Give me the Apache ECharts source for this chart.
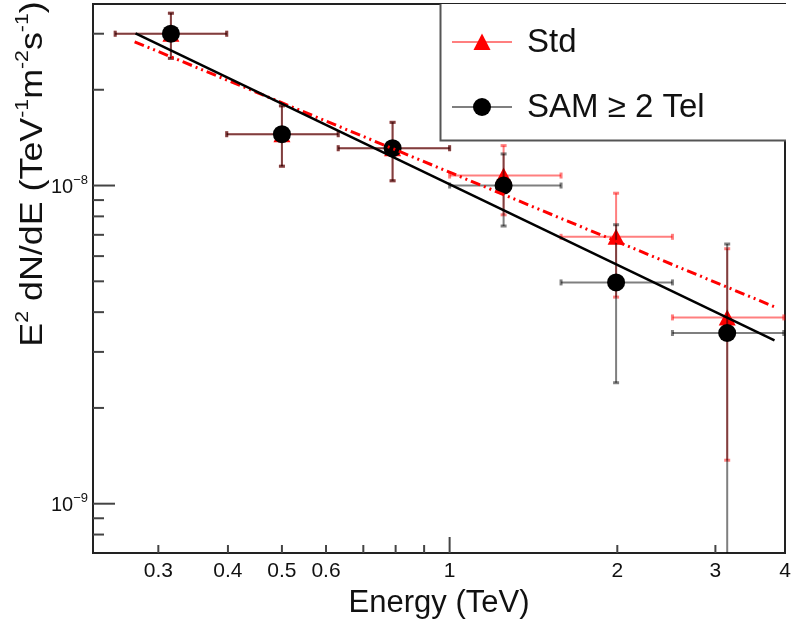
<!DOCTYPE html>
<html>
<head>
<meta charset="utf-8">
<script src="https://cdn.jsdelivr.net/npm/echarts@6/dist/echarts.min.js"></script>
<style>
  html, body { margin: 0; padding: 0; background: #fff; }
  #chart { width: 792px; height: 628px; }
</style>
</head>
<body>
<div id="chart"></div>
<script>
// Energy bins (TeV): bin centres and bin edges
const energy   = [0.316, 0.50, 0.79, 1.25, 1.99, 3.15];
const energyLo = [0.251, 0.398, 0.631, 1.0, 1.585, 2.512];
const energyHi = [0.398, 0.631, 1.0, 1.585, 2.512, 3.98];

// Standard analysis: E^2 dN/dE (TeV^-1 m^-2 s^-1) with lower / upper error
const stdFlux   = [3.0e-8, 1.45e-8, 1.31e-8, 1.075e-8, 6.9e-9, 3.85e-9];
const stdFluxLo = [2.51e-8, 1.15e-8, 1.035e-8, 8.09e-9, 4.46e-9, 1.37e-9];
const stdFluxHi = [3.48e-8, 1.78e-8, 1.58e-8, 1.335e-8, 9.46e-9, 6.33e-9];

// SAM analysis, at least 2 telescopes
const samFlux   = [3.0e-8, 1.45e-8, 1.31e-8, 1.0e-8, 4.96e-9, 3.44e-9];
const samFluxLo = [2.51e-8, 1.15e-8, 1.035e-8, 7.46e-9, 2.40e-9, 1.0e-10];
const samFluxHi = [3.48e-8, 1.78e-8, 1.58e-8, 1.257e-8, 7.53e-9, 6.55e-9];

// Power-law fits (straight lines in log-log), ends of the fitted range
const stdFitE = [0.272, 3.84];
const stdFitF = [2.83e-8, 4.15e-9];
const samFitE = [0.273, 3.83];
const samFitF = [3.01e-8, 3.26e-9];

// Axis ticks and labels
const xMajorTicks = [1];
const xMinorTicks = [0.3, 0.4, 0.5, 0.6, 0.7, 0.8, 0.9, 2, 3];
const xTickLabels = [0.3, 0.4, 0.5, 0.6, 1, 2, 3, 4];
const yMajorTicks = [1e-9, 1e-8];
const yMinorTicks = [8e-10, 9e-10, 2e-9, 3e-9, 4e-9, 5e-9, 6e-9, 7e-9, 8e-9, 9e-9, 2e-8, 3e-8];

const X_MIN = 0.229, X_MAX = 4;
const Y_MIN = 7.0e-10, Y_MAX = 3.72e-8;

const FONT = '"Liberation Sans", Arial, Helvetica, sans-serif';
const RED = '#ff0000';
const RED_BAR = 'rgba(255,0,0,0.5)';
const GREY_BAR = 'rgba(0,0,0,0.5)';
const AXIS = '#222';
const TICK = '#444';

function zip(...cols) {
  return cols[0].map((_, i) => cols.map(c => c[i]));
}

// Cross-shaped error bars with small end caps, clipped at the frame bottom
function errorBars(color) {
  return function (params, api) {
    const cs = params.coordSys;
    const bottom = cs.y + cs.height;
    const x = api.value(0), y = api.value(1);
    const c = api.coord([x, y]);
    const xl = api.coord([api.value(2), y])[0];
    const xr = api.coord([api.value(3), y])[0];
    let yl = api.coord([x, api.value(4)])[1];
    const yh = api.coord([x, api.value(5)])[1];
    const lowClipped = yl > bottom;
    yl = Math.min(yl, bottom);
    const st = { stroke: color, lineWidth: 2 };
    const cap = { stroke: color, lineWidth: 3 };
    const children = [
      { type: 'line', shape: { x1: xl, y1: c[1], x2: xr, y2: c[1] }, style: st },
      { type: 'line', shape: { x1: c[0], y1: yh, x2: c[0], y2: yl }, style: st },
      { type: 'line', shape: { x1: xl, y1: c[1] - 3, x2: xl, y2: c[1] + 3 }, style: cap },
      { type: 'line', shape: { x1: xr, y1: c[1] - 3, x2: xr, y2: c[1] + 3 }, style: cap },
      { type: 'line', shape: { x1: c[0] - 3, y1: yh, x2: c[0] + 3, y2: yh }, style: cap }
    ];
    if (!lowClipped) {
      children.push({ type: 'line', shape: { x1: c[0] - 3, y1: yl, x2: c[0] + 3, y2: yl }, style: cap });
    }
    return { type: 'group', children };
  };
}

function xTicks(len) {
  return function (params, api) {
    const p = api.coord([api.value(0), Y_MIN]);
    return { type: 'line', shape: { x1: p[0], y1: p[1], x2: p[0], y2: p[1] - len },
             style: { stroke: TICK, lineWidth: 2 } };
  };
}
function yTicks(len) {
  return function (params, api) {
    const p = api.coord([X_MIN, api.value(1)]);
    return { type: 'line', shape: { x1: p[0], y1: p[1], x2: p[0] + len, y2: p[1] },
             style: { stroke: TICK, lineWidth: 2 } };
  };
}

const chart = echarts.init(document.getElementById('chart'), null, { renderer: 'canvas' });

chart.setOption({
  animation: false,
  backgroundColor: '#fff',
  textStyle: { fontFamily: FONT },
  grid: { left: 93, right: 7, top: 4, bottom: 75, show: true, borderColor: AXIS, borderWidth: 2,
          backgroundColor: 'transparent' },
  xAxis: {
    type: 'log', logBase: 10, min: X_MIN, max: X_MAX,
    axisLine: { show: true, lineStyle: { color: AXIS, width: 2 } },
    axisTick: { show: false }, axisLabel: { show: false }, splitLine: { show: false },
    name: 'Energy (TeV)', nameLocation: 'middle', nameGap: 35,
    nameTextStyle: { fontFamily: FONT, fontSize: 31, color: '#111' }
  },
  yAxis: {
    type: 'log', logBase: 10, min: Y_MIN, max: Y_MAX,
    axisLine: { show: true, lineStyle: { color: AXIS, width: 2 } },
    axisTick: { show: false }, splitLine: { show: false },
    axisLabel: {
      margin: 5,
      formatter: function (v) {
        const e = Math.round(Math.log10(v));
        if (Math.abs(Math.log10(v) - e) > 1e-6) return '';
        return '{b|10}{s|\u2212' + Math.abs(e) + '}';
      },
      rich: {
        b: { fontFamily: FONT, fontSize: 20, color: '#111', lineHeight: 24, verticalAlign: 'bottom' },
        s: { fontFamily: FONT, fontSize: 13, color: '#111', lineHeight: 24, verticalAlign: 'top' }
      }
    }
  },
  graphic: [
    // y-axis title, stretched along its reading direction
    {
      type: 'text', x: 31, y: 174, rotation: Math.PI / 2, scaleX: 1.12, z: 10,
      style: {
        text: '{b|E}{s|2}{b| dN/dE (TeV}{s|-1}{b|m}{s|-2}{b|s}{s|-1}{b|)}',
        align: 'center', verticalAlign: 'middle',
        rich: {
          b: { fontFamily: FONT, fontSize: 32, fill: '#111', lineHeight: 36, verticalAlign: 'bottom' },
          s: { fontFamily: FONT, fontSize: 19, fill: '#111', lineHeight: 36, verticalAlign: 'top' }
        }
      }
    },
    // legend box
    { type: 'rect', z: 20, shape: { x: 440.5, y: 4, width: 345.5, height: 136.5 }, style: { fill: '#fff' } },
    { type: 'polyline', z: 21, shape: { points: [[440.5, 4], [440.5, 140.5], [786, 140.5]] },
      style: { stroke: '#555', lineWidth: 2, fill: null } },
    { type: 'line', z: 21, shape: { x1: 452, y1: 42, x2: 512, y2: 42 }, style: { stroke: RED_BAR, lineWidth: 2 } },
    { type: 'polygon', z: 22, shape: { points: [[482, 33.5], [490.5, 50], [473.5, 50]] }, style: { fill: RED } },
    { type: 'text', z: 22, x: 527, y: 43,
      style: { text: 'Std', fontFamily: FONT, fontSize: 33, fill: '#111', verticalAlign: 'middle' } },
    { type: 'line', z: 21, shape: { x1: 452, y1: 107, x2: 512, y2: 107 }, style: { stroke: GREY_BAR, lineWidth: 2 } },
    { type: 'circle', z: 22, shape: { cx: 482, cy: 107, r: 9 }, style: { fill: '#000' } },
    { type: 'text', z: 22, x: 527, y: 108,
      style: { text: 'SAM \u2265 2 Tel', fontFamily: FONT, fontSize: 33, fill: '#111', verticalAlign: 'middle' } }
  ],
  series: [
    {
      name: 'Std errors', type: 'custom', renderItem: errorBars(RED_BAR),
      data: zip(energy, stdFlux, energyLo, energyHi, stdFluxLo, stdFluxHi),
      encode: { x: 0, y: 1 }, z: 2
    },
    {
      name: 'Std', type: 'scatter', symbol: 'triangle', symbolSize: [17, 16],
      itemStyle: { color: RED, opacity: 1 }, data: zip(energy, stdFlux), z: 3
    },
    {
      name: 'SAM errors', type: 'custom', renderItem: errorBars(GREY_BAR),
      data: zip(energy, samFlux, energyLo, energyHi, samFluxLo, samFluxHi),
      encode: { x: 0, y: 1 }, z: 4
    },
    {
      name: 'SAM \u2265 2 Tel', type: 'scatter', symbol: 'circle', symbolSize: 18,
      itemStyle: { color: '#000', opacity: 1 }, data: zip(energy, samFlux), z: 5
    },
    {
      name: 'Std fit', type: 'line', showSymbol: false, symbol: 'none', z: 6,
      lineStyle: { color: RED, width: 3, type: [10, 4, 2, 4, 2, 4] },
      data: zip(stdFitE, stdFitF)
    },
    {
      name: 'SAM fit', type: 'line', showSymbol: false, symbol: 'none', z: 6,
      lineStyle: { color: '#000', width: 2.5 },
      data: zip(samFitE, samFitF)
    },
    { type: 'custom', renderItem: xTicks(16), data: xMajorTicks.map(v => [v, Y_MIN]), z: 7 },
    { type: 'custom', renderItem: xTicks(8), data: xMinorTicks.map(v => [v, Y_MIN]), z: 7 },
    { type: 'custom', renderItem: yTicks(22), data: yMajorTicks.map(v => [X_MIN, v]), z: 7 },
    { type: 'custom', renderItem: yTicks(11), data: yMinorTicks.map(v => [X_MIN, v]), z: 7 },
    {
      type: 'custom', z: 7,
      renderItem: function (params, api) {
        const v = api.value(0);
        const p = api.coord([v, Y_MIN]);
        return { type: 'text', x: p[0], y: p[1] + 18,
                 style: { text: String(v), fontFamily: FONT, fontSize: 21, fill: '#111',
                          align: 'center', verticalAlign: 'middle' } };
      },
      data: xTickLabels.map(v => [v, Y_MIN])
    }
  ]
});
</script>
</body>
</html>
